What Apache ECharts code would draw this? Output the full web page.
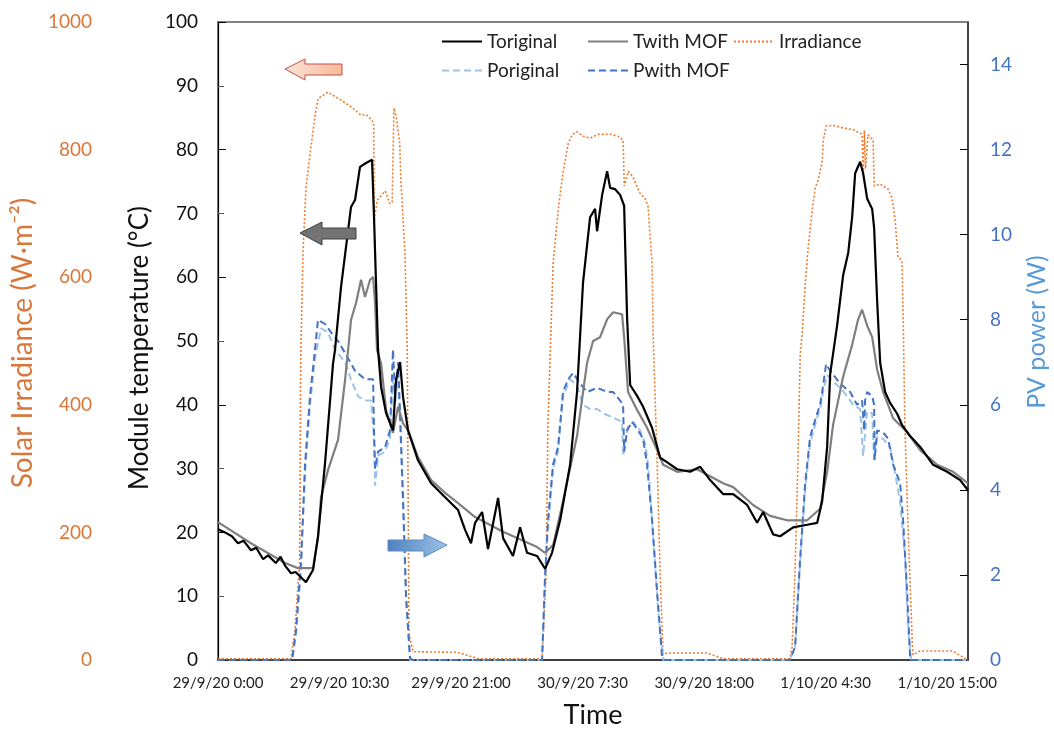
<!DOCTYPE html>
<html lang="en">
<head>
    <meta charset="UTF-8">
    <title>Module temperature, irradiance and PV power</title>
    <style>
        html, body { margin: 0; padding: 0; background: #fff; }
    </style>
</head>
<body>
<div id="main" style="width: 1054px;height:731px;"></div>
<script src="https://cdn.jsdelivr.net/npm/echarts@6/dist/echarts.min.js"></script>
<script type="text/javascript">
    // time axis is in hours from 29/9/20 0:00, one label every 10.5 h
    var tickLabels = ['29/9/20 0:00', '29/9/20 10:30', '29/9/20 21:00', '30/9/20 7:30',
        '30/9/20 18:00', '1/10/20 4:30', '1/10/20 15:00'];

    // [hour, °C]
    var tOriginal = [[0,20.5],[0.6,20],[1.2,19.4],[1.73,18.3],[2.2,18.7],[2.85,17.2],[3.3,17.6],[3.9,15.8],
        [4.32,16.4],[5.0,15.2],[5.4,16.2],[5.79,14.8],[6.31,13.6],[6.7,13.8],[7.1,13.1],[7.6,12.2],[8.21,14.1],
        [8.64,19.3],[9.25,30.9],[9.94,46.5],[10.11,48.6],[10.63,58.5],[11.06,64.7],[11.49,71],[11.84,72.1],
        [12.27,77.3],[12.79,77.9],[13.31,78.4],[13.48,69.4],[13.83,48.6],[14.09,42.8],[14.52,38.7],[15.12,36],
        [15.38,43.9],[15.73,46.7],[15.99,41.2],[16.42,36],[17.28,31.3],[18.41,27.7],[19.62,25.5],[20.74,23.5],
        [21.35,20.4],[21.86,18.3],[22.21,21.5],[22.82,23.2],[23.33,17.4],[24.2,25.4],[24.63,19.1],[25.49,16.3],
        [26.1,20.8],[26.7,16.8],[27.57,16.3],[28.26,14.3],[28.86,16.8],[29.56,21.9],[30.42,30.6],[31.02,42],
        [31.54,59.2],[32.15,69.4],[32.58,70.7],[32.75,67.2],[33.19,72.9],[33.62,76.6],[33.88,74],[34.31,73.8],
        [34.74,72.9],[35.09,71.2],[35.35,53.4],[35.61,43.1],[36.21,41.4],[36.73,39.7],[37.5,36.4],[38.2,31.7],
        [38.63,31.2],[39.67,29.9],[40.79,29.5],[41.65,30.3],[42.52,28.2],[43.64,26],[44.51,26],[45.72,24.3],
        [46.58,21.5],[47.1,23.2],[47.96,19.7],[48.57,19.4],[49.69,20.8],[50.9,21.2],[51.77,21.5],[52.2,24.9],
        [52.63,33.4],[52.89,44.8],[53.49,52.4],[54.01,60.3],[54.45,63.8],[54.79,69.4],[55.05,76.3],[55.48,78.1],
        [55.74,76.3],[56.09,72.3],[56.52,70.7],[56.69,67.7],[56.95,56.3],[57.21,46.6],[57.64,42],[58.07,40.3],
        [58.68,38.6],[59.11,36.8],[59.8,35.1],[60.67,33.4],[61.79,30.6],[63.0,29.5],[64.12,28.2],[64.8,26.6]];

    // [hour, °C]
    var tWithMof = [[0,21.6],[2.85,18.3],[5.79,15.2],[6.91,14.4],[8.21,14.4],[8.64,19.3],[8.9,25.5],[9.51,29.8],
        [10.37,34.5],[10.98,43.9],[11.41,51.7],[11.49,53.3],[11.93,56],[12.36,59.6],[12.7,56.9],[13.14,59.6],
        [13.4,60],[13.57,56],[13.74,48.6],[14.09,46.5],[14.52,39.2],[15.12,35.6],[15.56,39.7],[15.99,37.1],
        [16.42,36],[17.28,31.8],[18.41,28.2],[19.62,26.2],[20.74,24.6],[22.21,22.4],[24.63,20.1],[27.57,17.7],
        [28.26,16.8],[28.95,18],[29.81,24.9],[31.02,35.1],[31.89,46.6],[32.41,50],[33.01,50.6],[33.62,53.4],
        [34.14,54.5],[34.91,54.2],[35.09,50.6],[35.43,42],[36.21,39.2],[37.07,36.4],[37.94,32.9],[38.46,30.6],
        [39.67,29.5],[41.39,29.9],[42.52,28.8],[43.64,27.7],[44.51,27.1],[46.23,24.3],[47.7,22.6],[49.17,21.9],
        [50.9,21.9],[52.02,23.7],[52.63,29.5],[53.14,36.8],[54.01,44.4],[54.79,49.4],[55.31,53.4],[55.65,54.9],
        [56.09,52.4],[56.52,50.6],[56.95,45.5],[57.47,42],[58.33,37.9],[59.54,35.7],[60.67,32.9],[62.14,30.6],
        [63.52,29.5],[64.8,27.7]];

    // [hour, W/m2]
    var irradiance = [[0,2],[6.3,2],[6.65,47],[7.05,150],[7.15,480],[7.35,640],[7.6,740],[8.0,800],[8.4,855],
        [8.65,880],[9.5,890],[10.6,878],[11.5,867],[12.35,854],[12.8,855],[13.2,848],[13.45,842],[13.5,690],
        [13.75,721],[14.1,728],[14.45,735],[14.85,715],[15.05,718],[15.2,865],[15.4,851],[15.7,810],[15.8,752],
        [16.15,638],[16.35,486],[16.5,40],[16.85,13],[20.7,12],[22.5,2],[28.0,2],[28.1,3],[28.35,135],[28.5,364],
        [28.7,478],[28.95,621],[29.4,707],[29.8,763],[30.25,809],[30.6,823],[31.0,828],[31.55,821],[32.15,818],
        [32.85,824],[33.9,824],[34.55,821],[35.0,815],[35.1,743],[35.45,766],[35.85,757],[36.45,732],[36.9,723],
        [37.15,712],[37.5,621],[37.6,506],[37.95,306],[38.2,135],[38.45,8],[38.8,11],[42.25,11],[43.65,2],
        [49.4,2],[49.6,20],[49.85,135],[50.1,306],[50.3,478],[50.45,506],[50.75,592],[51.0,649],[51.35,707],
        [51.6,740],[51.85,752],[52.2,781],[52.3,815],[52.55,837],[53.15,838],[54.0,834],[54.9,831],[55.65,824],
        [55.75,760],[55.85,830],[55.95,770],[56.15,823],[56.6,815],[56.7,743],[57.2,746],[57.9,738],[58.25,723],
        [58.5,690],[58.75,632],[59.1,626],[59.2,534],[59.35,364],[59.65,191],[60.0,20],[60.05,8],[60.65,14],
        [63.5,14],[64.75,0]];

    // [hour, W]
    var pOriginal = [[0,0],[6.4,0],[6.74,0.6],[7.17,2.1],[7.52,4.4],[7.95,6.0],[8.38,7.1],[8.9,7.8],[9.51,7.7],
        [10.11,7.3],[10.98,7.0],[11.49,6.6],[12.1,6.2],[12.7,6.1],[13.22,6.1],[13.48,5.2],[13.57,4.1],[13.83,4.8],
        [14.43,4.9],[14.86,5.2],[15.12,6.6],[15.3,6.0],[15.56,6.7],[15.73,5.6],[15.99,3.6],[16.25,1.4],[16.59,0],
        [28.0,0],[28.26,1.9],[28.52,3.2],[28.95,4.5],[29.38,4.9],[29.81,6.2],[30.42,6.6],[31.02,6.45],[31.54,6.0],
        [32.15,5.9],[32.75,5.9],[33.27,5.8],[34.14,5.7],[34.91,5.6],[35.0,4.8],[35.43,5.5],[35.86,5.6],[36.47,5.4],
        [36.9,5.1],[37.16,4.6],[37.6,2.9],[38.03,1.15],[38.46,0],[49.4,0],[49.86,0.3],[50.3,2.3],[50.73,4.0],
        [51.16,5.1],[51.77,5.7],[52.02,5.9],[52.28,6.3],[52.63,6.7],[53.14,6.55],[53.75,6.4],[54.36,6.2],
        [54.88,6.0],[55.48,5.9],[55.74,4.8],[56.09,5.85],[56.52,5.8],[56.69,4.7],[56.95,5.25],[57.47,5.2],
        [58.07,5.0],[58.5,4.4],[58.94,3.7],[59.37,2.4],[59.63,0.7],[59.89,0],[64.8,0]];

    // [hour, W]
    var pWithMof = [[0,0],[6.4,0],[6.74,0.7],[7.17,2.3],[7.52,4.6],[7.95,6.2],[8.38,7.3],[8.64,8.0],[9.25,7.9],
        [9.77,7.7],[10.37,7.5],[11.23,7.1],[11.84,6.8],[12.7,6.6],[13.4,6.6],[13.48,5.4],[13.57,4.5],[13.83,4.9],
        [14.43,5.0],[14.86,5.4],[15.12,7.3],[15.3,6.2],[15.56,7.0],[15.73,5.8],[15.99,3.8],[16.25,1.5],[16.59,0.05],
        [16.8,0],[28.0,0],[28.26,2.0],[28.52,3.3],[28.95,4.6],[29.38,5.0],[29.81,6.3],[30.25,6.6],[30.68,6.75],
        [31.28,6.5],[31.89,6.3],[32.75,6.4],[33.62,6.3],[34.14,6.3],[34.74,6.1],[35.0,6.0],[35.09,4.9],[35.35,5.4],
        [35.78,5.6],[36.3,5.4],[36.73,5.2],[37.07,4.6],[37.5,3.3],[37.94,1.6],[38.37,0.05],[38.6,0],[49.4,0],
        [49.86,0.3],[50.3,2.4],[50.73,4.15],[51.16,5.25],[51.77,5.8],[52.02,6.0],[52.28,6.45],[52.54,6.96],
        [52.89,6.8],[53.75,6.5],[54.62,6.3],[55.22,6.0],[55.65,6.1],[55.83,5.4],[55.91,6.1],[56.09,6.3],[56.52,6.2],
        [56.69,6.0],[56.73,4.7],[56.95,5.4],[57.47,5.35],[57.9,5.2],[58.33,4.6],[58.94,4.15],[59.19,3.3],
        [59.54,1.6],[59.8,0.05],[60.0,0],[64.8,0]];

    var font = 'Lato, "Open Sans", sans-serif';
    var myChart = echarts.init(document.getElementById('main'));

    function arrow(points, fill, stroke) {
        return {
            type: 'polygon',
            shape: { points: points },
            style: { fill: fill, stroke: stroke, lineWidth: 1 },
            z: 10
        };
    }

    // one legend per entry so the two rows line up in columns like the original
    function legendItem(name, left, top) {
        return {
            data: [name], left: left, top: top,
            itemWidth: 40, itemHeight: 12,
            itemStyle: { opacity: 0 },
            textStyle: { fontFamily: font, fontSize: 19, color: '#222' }
        };
    }

    var option = {
        backgroundColor: '#fff',
        animation: false,
        textStyle: { fontFamily: font },
        grid: { left: 218, right: 86, top: 22, bottom: 71, outerBoundsMode: 'none' },
        legend: [
            legendItem('Toriginal', 436, 27),
            legendItem('Twith MOF', 582, 27),
            legendItem('Irradiance', 728, 27),
            legendItem('Poriginal', 436, 56),
            legendItem('Pwith MOF', 582, 56)
        ],
        xAxis: [{
            type: 'value', min: 0, max: 64.8, interval: 10.5,
            name: 'Time', nameLocation: 'middle', nameGap: 42,
            nameTextStyle: { fontFamily: font, fontSize: 27, color: '#111' },
            axisLine: { lineStyle: { color: '#000', width: 1.5 } },
            axisTick: { show: false },
            splitLine: { show: false },
            axisLabel: {
                showMaxLabel: false, margin: 16, fontSize: 15, color: '#222', fontFamily: font,
                formatter: function (v) {
                    var i = Math.round(v / 10.5);
                    return Math.abs(v - i * 10.5) < 1e-6 && tickLabels[i] ? tickLabels[i] : '';
                }
            }
        }, {
            type: 'value', min: 0, max: 64.8, position: 'top',
            axisLine: { onZero: false, lineStyle: { color: '#595959', width: 1.5 } },
            axisTick: { show: false }, axisLabel: { show: false }, splitLine: { show: false }
        }],
        yAxis: [{
            type: 'value', min: 0, max: 100, interval: 10, position: 'left',
            name: 'Module temperature (°C)', nameLocation: 'middle', nameGap: 65, nameRotate: 90,
            nameTextStyle: { fontFamily: font, fontSize: 26, color: '#111', padding: [0, 14, 0, 0] },
            axisLine: { show: true, lineStyle: { color: '#595959', width: 1.5 } },
            axisTick: { show: true, inside: true, length: 6, lineStyle: { color: '#595959' } },
            axisLabel: { margin: 20, fontSize: 19, color: '#111', fontFamily: font },
            splitLine: { show: false }
        }, {
            type: 'value', min: 0, max: 1000, interval: 200, position: 'left', offset: 120,
            name: 'Solar Irradiance (W·m⁻²)', nameLocation: 'middle', nameGap: 60, nameRotate: 90,
            nameTextStyle: { fontFamily: font, fontSize: 28, color: '#D9773A', padding: [0, 4, 0, 0] },
            axisLine: { show: true, lineStyle: { color: '#000', width: 1.2 } },
            axisTick: { show: true, inside: true, length: 8, lineStyle: { color: '#000' } },
            axisLabel: {
                margin: 6, fontSize: 19, color: '#D9773A', fontFamily: font,
                formatter: function (v) { return String(v); }
            },
            splitLine: { show: false }
        }, {
            type: 'value', min: 0, max: 15, interval: 2, position: 'right',
            name: 'PV power (W)', nameLocation: 'middle', nameGap: 56, nameRotate: 90,
            nameTextStyle: { fontFamily: font, fontSize: 25, color: '#5B9BD5', padding: [0, 0, 0, 18] },
            axisLine: { show: true, lineStyle: { color: '#000', width: 1.5 } },
            axisTick: { show: true, inside: true, length: 8, lineStyle: { color: '#000' } },
            axisLabel: { margin: 22, fontSize: 19, color: '#4472C4', fontFamily: font, showMaxLabel: false },
            splitLine: { show: false }
        }],
        graphic: [
            arrow([[285, 69], [305, 59], [305, 64], [342, 64], [342, 75], [305, 75], [305, 80]],
                { type: 'linear', x: 0, y: 0, x2: 1, y2: 0, colorStops: [{ offset: 0, color: '#FCE4D6' }, { offset: 1, color: '#F8B89A' }] },
                '#C0504D'),
            arrow([[300, 233], [322, 222], [322, 228], [356, 228], [356, 239], [322, 239], [322, 245]],
                '#737373', '#404040'),
            arrow([[447, 545], [424, 534], [424, 540], [388, 540], [388, 551], [424, 551], [424, 557]],
                { type: 'linear', x: 0, y: 0, x2: 1, y2: 0, colorStops: [{ offset: 0, color: '#4F81BD' }, { offset: 1, color: '#9DC3E6' }] },
                '#5B8BC5')
        ],
        series: [{
            name: 'Irradiance', type: 'line', yAxisIndex: 1, data: irradiance,
            symbol: 'none', itemStyle: { color: '#ED7D31' },
            lineStyle: { color: '#ED7D31', width: 1.6, type: [2, 2] }, z: 2
        }, {
            name: 'Poriginal', type: 'line', yAxisIndex: 2, data: pOriginal,
            symbol: 'none', itemStyle: { color: '#9DC3E6' },
            lineStyle: { color: '#9DC3E6', width: 2, type: [7, 4] }, z: 3
        }, {
            name: 'Pwith MOF', type: 'line', yAxisIndex: 2, data: pWithMof,
            symbol: 'none', itemStyle: { color: '#4472C4' },
            lineStyle: { color: '#4472C4', width: 2, type: [7, 4] }, z: 4
        }, {
            name: 'Twith MOF', type: 'line', yAxisIndex: 0, data: tWithMof,
            symbol: 'none', itemStyle: { color: '#7F7F7F' },
            lineStyle: { color: '#7F7F7F', width: 2.2 }, z: 5
        }, {
            name: 'Toriginal', type: 'line', yAxisIndex: 0, data: tOriginal,
            symbol: 'none', itemStyle: { color: '#000' },
            lineStyle: { color: '#000', width: 2.2 }, z: 6
        }]
    };
    myChart.setOption(option);
</script>
</body>
</html>
